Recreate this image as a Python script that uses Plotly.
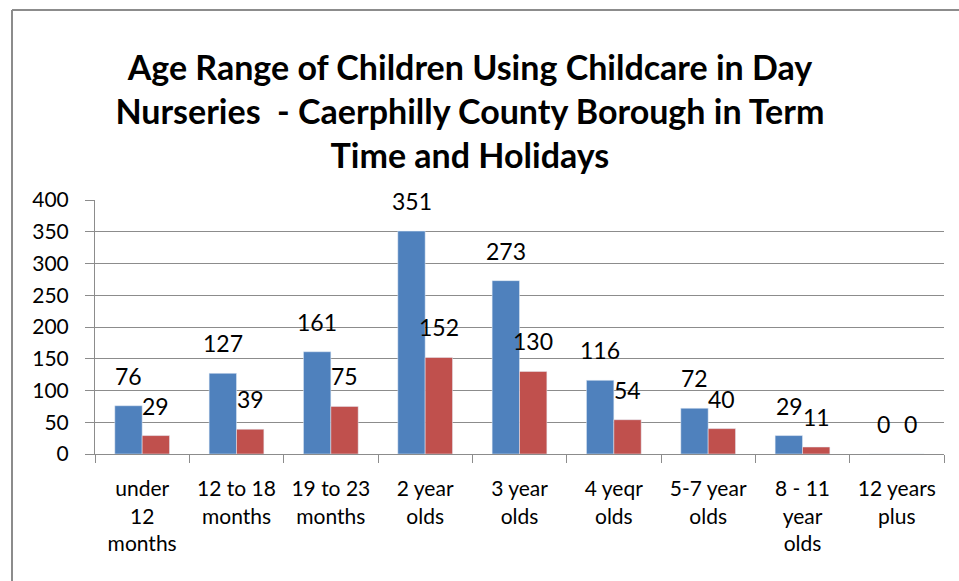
import plotly.graph_objects as go

categories = ["under<br>12<br>months", "12 to 18<br>months", "19 to 23<br>months",
              "2 year<br>olds", "3 year<br>olds", "4 yeqr<br>olds", "5-7 year<br>olds",
              "8 - 11<br>year<br>olds", "12 years<br>plus"]
term_time = [76, 127, 161, 351, 273, 116, 72, 29, 0]
holidays = [29, 39, 75, 152, 130, 54, 40, 11, 0]

blue = "#4F81BD"
red = "#C0504D"
grey = "#8C8C8C"

fig = go.Figure()
fig.add_trace(go.Bar(x=categories, y=term_time, name="Term Time", marker_color=blue))
fig.add_trace(go.Bar(x=categories, y=holidays, name="Holidays", marker_color=red))

# data labels sit a little above each bar, like Excel's
bar_px = 13.5
for vals, shift in [(term_time, -bar_px), (holidays, bar_px)]:
    for c, v in zip(categories, vals):
        fig.add_annotation(x=c, y=v, text=str(v), showarrow=False, xshift=shift,
                           yshift=14, yanchor="bottom",
                           font=dict(family="Lato", size=23, color="#000000"))

fig.update_layout(
    width=959, height=581,
    margin=dict(l=95, r=15, t=200, b=127),
    barmode="group", bargap=0.42, bargroupgap=0,
    showlegend=False,
    paper_bgcolor="white", plot_bgcolor="white",
    title=dict(text="<b>Age Range of Children Using Childcare in Day<br>Nurseries  - Caerphilly County Borough in Term<br>Time and Holidays</b>",
               x=0.49, xanchor="center", y=1 - 80 / 581, yanchor="top",
               font=dict(family="Lato", size=34, color="#000000")),
    font=dict(family="Lato", color="#000000"),
)

fig.update_yaxes(range=[0, 400], dtick=50, showgrid=True, gridcolor=grey, gridwidth=1,
                 showline=True, linecolor=grey, ticks="outside", ticklen=9, tickcolor=grey,
                 ticklabelstandoff=12, tickfont=dict(family="Lato", size=21), zeroline=False)
fig.update_xaxes(showline=True, linecolor=grey, ticks="outside", ticklen=8, tickcolor=grey,
                 tickson="boundaries", ticklabelstandoff=16, tickangle=0,
                 tickfont=dict(family="Lato", size=21), automargin=False)

# chart frame (top and left edges are visible in the crop)
fig.add_shape(type="line", xref="paper", yref="paper", x0=(12 - 95) / 849, x1=1.2,
              y0=1 + 190 / 254, y1=1 + 190 / 254, line=dict(color=grey, width=2))
fig.add_shape(type="line", xref="paper", yref="paper", x0=(12 - 95) / 849, x1=(12 - 95) / 849,
              y0=1 + 190 / 254, y1=-1, line=dict(color=grey, width=2))

fig.write_html("out.html", config={"displayModeBar": False},
               post_script="document.body.style.margin='0px';")
